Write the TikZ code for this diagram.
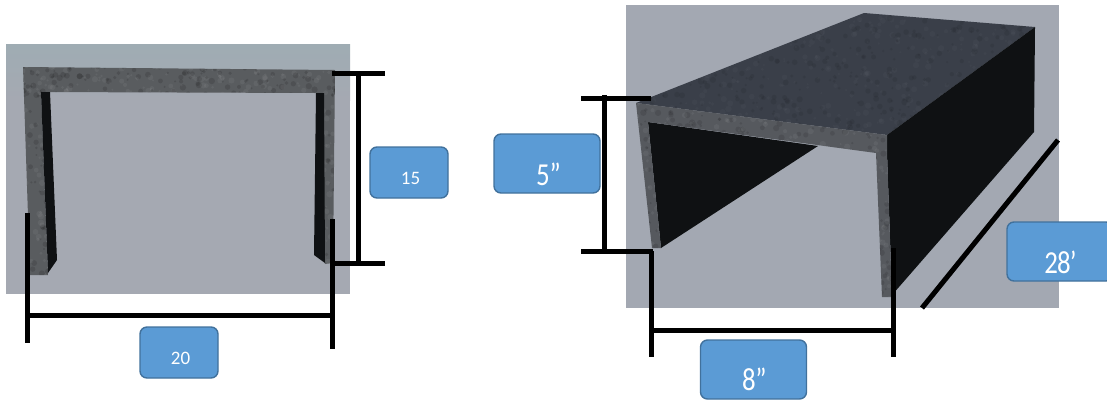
\documentclass[tikz,border=0pt]{standalone}
\usepackage{fontspec}
\usepackage{graphicx}
\setmainfont{Carlito}
\newcommand{\boxtxt}[3]{\makebox[0pt][c]{\hspace*{#1pt}\raisebox{#2pt}[0pt][0pt]{#3}}}
\newcommand{\narrowtxt}[1]{\scalebox{0.84}[1]{#1}}
% mottled surface: x0, y0, width, height, count, dark opacity, light opacity
\newcommand{\mottle}[7]{%
  \foreach \i in {1,...,#5}{%
    \pgfmathsetmacro{\mx}{#1+rnd*#3}%
    \pgfmathsetmacro{\my}{#2+rnd*#4}%
    \pgfmathsetmacro{\mr}{1+rnd*2.2}%
    \pgfmathtruncatemacro{\mk}{rnd*2}%
    \ifnum\mk=0 \fill[black,opacity=#6] (\mx,\my) circle (\mr);%
    \else \fill[white,opacity=#7] (\mx,\my) circle (\mr);\fi
  }}
\definecolor{boxfill}{HTML}{5B9BD5}
\definecolor{boxline}{HTML}{41719C}
\definecolor{bgtop}{HTML}{9FACB3}
\definecolor{bgbot}{HTML}{A5A9B2}
\definecolor{bgright}{HTML}{A3A8B2}
\definecolor{concrete}{HTML}{595C5F}
\definecolor{slabtop}{HTML}{3A3F49}
\definecolor{slabfront}{HTML}{56595E}
\definecolor{inkdark}{HTML}{0F1113}
\tikzset{
  dimline/.style={draw=black,line width=5pt},
  dimbox/.style={draw=boxline,line width=1.4pt,fill=boxfill,rounded corners=7pt,text=white,inner sep=0pt},
  smallbox/.style={dimbox,minimum width=78pt,minimum height=51pt,font=\fontsize{19}{19}\selectfont},
  bigbox/.style={dimbox,minimum width=106pt,minimum height=59pt,font=\fontsize{32}{32}\selectfont},
}
\begin{document}
\begin{tikzpicture}[x=1pt,y=-1pt]
\pgfmathsetseed{42}
\clip (0,0) rectangle (1107,400);
\useasboundingbox (0,0) rectangle (1107,400);
% left view
\fill[bgbot] (6,44) rectangle (350,294);
\shade[top color=bgtop,bottom color=bgbot] (6,44) rectangle (350,100);
\fill[concrete] (23,67) -- (335,70) -- (333,263) -- (325,264) -- (316,93) -- (41,92) -- (48,275) -- (30,275) -- cycle;
\begin{scope}
  \clip (23,67) -- (335,70) -- (333,263) -- (325,264) -- (316,93) -- (41,92) -- (48,275) -- (30,275) -- cycle;
  \mottle{20}{64}{318}{32}{260}{.12}{.05}
  \mottle{20}{90}{32}{188}{90}{.12}{.05}
  \mottle{312}{90}{26}{176}{70}{.12}{.05}
\end{scope}
\fill[inkdark] (41,92) -- (50,92) -- (57,260) -- (48,273) -- cycle;
\fill[inkdark] (316,93) -- (324,93) -- (325,263) -- (314,255) -- cycle;
% right view
\fill[bgright] (626,5) rectangle (1059,308);
\fill[inkdark] (648,122) -- (818,146) -- (661,248) -- cycle;
\fill[slabtop] (864,13) -- (1035,27) -- (887,135) -- (636,103) -- cycle;
\begin{scope}
  \clip (864,13) -- (1035,27) -- (887,135) -- (636,103) -- cycle;
  \mottle{636}{13}{400}{122}{800}{.07}{.025}
\end{scope}
\fill[inkdark] (887,135) -- (1035,27) -- (1034,132) -- (892,295) -- (887,153) -- cycle;
\fill[slabfront] (636,103) -- (887,135) -- (887,153) -- (892,297) -- (882,297) -- (876,153) -- (648,122) -- (661,248) -- (652,248) -- cycle;
\begin{scope}
  \clip (636,103) -- (887,135) -- (887,153) -- (892,297) -- (882,297) -- (876,153) -- (648,122) -- (661,248) -- (652,248) -- cycle;
  \mottle{634}{100}{256}{55}{220}{.1}{.05}
  \mottle{634}{120}{28}{130}{60}{.1}{.05}
  \mottle{874}{150}{20}{150}{60}{.1}{.05}
\end{scope}
% dimension ends
\coordinate (a1) at (332,73); \coordinate (a2) at (385,73);
\coordinate (a3) at (332,263); \coordinate (a4) at (385,263);
\coordinate (a5) at (358,73); \coordinate (a6) at (358,263);
\coordinate (b1) at (27,213); \coordinate (b2) at (27,343);
\coordinate (b3) at (332,219); \coordinate (b4) at (332,349);
\coordinate (b5) at (27,315); \coordinate (b6) at (332,315);
\coordinate (c1) at (581,98); \coordinate (c2) at (651,98);
\coordinate (c3) at (581,251); \coordinate (c4) at (653,251);
\coordinate (c5) at (604,95); \coordinate (c6) at (604,251);
\coordinate (d1) at (651,251); \coordinate (d2) at (651,357);
\coordinate (d3) at (893,248); \coordinate (d4) at (893,357);
\coordinate (d5) at (651,330); \coordinate (d6) at (893,330);
\coordinate (e1) at (1058,140); \coordinate (e2) at (922,308);
\foreach \p/\q in {a1/a2,a3/a4,a5/a6,b1/b2,b3/b4,b5/b6,c1/c2,c3/c4,c5/c6,d1/d2,d3/d4,d5/d6,e1/e2}
  \draw[dimline] (\p) -- (\q);
% labels
\node[smallbox] (h15) at (409,172.5) {\boxtxt{3}{-12}{15}};
\node[smallbox] (w20) at (179,352.5) {\boxtxt{3}{-12}{20}};
\node[bigbox] (h5) at (547,163.5) {\boxtxt{3}{-21.5}{\narrowtxt{5’\kern-3pt’}}};
\node[bigbox] (w8) at (753.5,369.5) {\boxtxt{1.5}{-20.5}{\narrowtxt{8’\kern-3pt’}}};
\node[bigbox] (l28) at (1060,251.5) {\boxtxt{1}{-21.5}{\narrowtxt{2\kern-1pt 8\kern-1pt’}}};
\end{tikzpicture}
\end{document}
